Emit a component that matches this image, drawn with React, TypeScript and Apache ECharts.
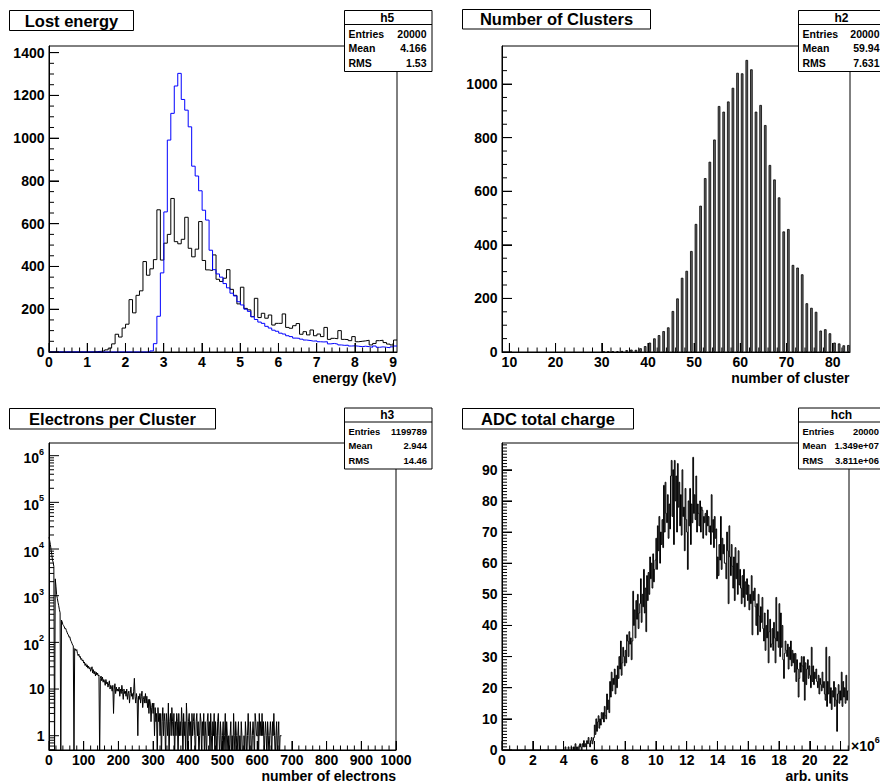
import React, { useEffect, useRef } from "react";
import * as echarts from "echarts";

const FONT = '"Liberation Sans", Arial, Helvetica, sans-serif';

// ---------- Panel 1: Lost energy (100 bins, 0 .. 9.1 keV) ----------
const energyBinStart = 0;
const energyBinWidth = 0.091;
const energyBlack = [
  0, 0, 0, 0, 0, 0, 0, 0, 0, 0,
  0, 0, 0, 2, 3, 5, 10, 18, 38, 83,
  70, 112, 130, 245, 183, 265, 286, 423, 359, 389,
  432, 665, 430, 509, 550, 718, 516, 506, 527, 630,
  485, 445, 481, 610, 428, 384, 381, 454, 340, 330,
  345, 385, 293, 265, 225, 303, 204, 197, 165, 251,
  161, 181, 158, 173, 126, 134, 134, 178, 115, 111,
  123, 133, 83, 95, 80, 103, 76, 84, 72, 115,
  59, 64, 62, 100, 59, 58, 53, 72, 48, 50,
  52, 55, 33, 40, 53, 55, 44, 37, 33, 56,
];
const energyBlue = [
  0, 0, 0, 0, 0, 0, 0, 0, 0, 0,
  0, 0, 0, 0, 0, 0, 0, 0, 0, 0,
  0, 0, 0, 0, 0, 0, 0, 0, 0, 5,
  39, 167, 370, 655, 991, 1116, 1244, 1303, 1181, 1131,
  1053, 869, 823, 754, 663, 617, 476, 385, 365, 350,
  320, 300, 275, 262, 235, 220, 200, 190, 165, 152,
  140, 134, 120, 112, 102, 97, 88, 84, 76, 72,
  65, 64, 60, 56, 54, 51, 52, 48, 47, 48,
  38, 40, 37, 33, 31, 32, 28, 29, 27, 25,
  27, 25, 22, 28, 22, 24, 22, 20, 24, 28,
];
const energyXTicks = [0, 1, 2, 3, 4, 5, 6, 7, 8, 9];
const energyYTicks = [0, 200, 400, 600, 800, 1000, 1200, 1400];
const statsH5: [string, string][] = [["Entries", "20000"], ["Mean", "4.166"], ["RMS", "1.53"]];

// ---------- Panel 2: Number of Clusters (integer bins) ----------
const clusterFirstBin = 30;
const clusterCounts = [
  1, 2, 2, 3, 4, 7, 9, 8,
  14, 22, 35, 51, 63, 78, 92, 153, 200, 277, 303, 377,
  478, 546, 649, 710, 793, 918, 897, 935, 986, 1042,
  1040, 1090, 1055, 897, 922, 847, 698, 644, 577, 450,
  459, 325, 315, 290, 182, 165, 150, 80, 85, 70,
  35, 32, 25, 26,
];
const clusterXTicks = [10, 20, 30, 40, 50, 60, 70, 80];
const clusterYTicks = [0, 200, 400, 600, 800, 1000];
const statsH2: [string, string][] = [["Entries", "20000"], ["Mean", "59.94"], ["RMS", "7.631"]];

// ---------- Panel 3: Electrons per Cluster (bins of 2, log scale) ----------
const electronBinStart = 0;
const electronBinWidth = 2;
const electronCounts = [
  18000, 15000, 12500, 9500, 7600, 5800, 5200, 4200, 0, 2300,
  1600, 1050, 880, 720, 610, 500, 430, 0, 300, 275,
  240, 230, 215, 195, 200, 180, 165, 150, 145, 128,
  132, 112, 105, 96, 88, 84, 0, 74, 72, 66,
  70, 58, 52, 56, 48, 50, 43, 45, 40, 42,
  36, 38, 32, 35, 30, 33, 28, 31, 27, 29,
  24, 27, 30, 22, 26, 21, 24, 19, 23, 20,
  22, 19, 20, 0, 17, 19, 15, 18, 14, 16,
  15, 12, 16, 13, 14, 11, 13, 15, 10, 12,
  11, 9, 12, 3, 10, 13, 8, 11, 9, 10,
  9, 11, 7, 10, 8, 12, 9, 6, 10, 8,
  9, 7, 10, 6, 8, 9, 5, 8, 11, 7,
  8, 6, 9, 17, 7, 5, 8, 6, 1, 7,
  6, 8, 5, 7, 9, 4, 6, 7, 5, 8,
  5, 7, 4, 6, 3, 6, 5, 2, 4, 5,
  3, 5, 1, 4, 2, 3, 0, 4, 2, 3,
  1, 3, 0, 2, 4, 1, 3, 2, 0, 3,
  2, 1, 5, 0, 2, 3, 1, 4, 2, 1,
  3, 0, 2, 1, 3, 2, 0, 3, 1, 2,
  1, 4, 2, 0, 3, 1, 2, 0, 5, 2,
  0, 2, 3, 1, 2, 0, 3, 1, 2, 3,
  1, 0, 2, 3, 1, 2, 0, 1, 3, 2,
  0, 2, 1, 3, 0, 2, 1, 0, 2, 3,
  1, 2, 0, 3, 1, 0, 2, 1, 3, 0,
  2, 1, 0, 2, 3, 1, 0, 2, 1, 0,
  1, 2, 0, 1, 3, 0, 2, 1, 0, 1,
  0, 1, 2, 0, 1, 0, 3, 1, 0, 2,
  1, 0, 1, 2, 0, 1, 0, 2, 1, 0,
  0, 1, 0, 2, 1, 0, 1, 3, 1, 0,
  2, 1, 0, 1, 2, 1, 0, 3, 2, 1,
  1, 2, 0, 3, 1, 2, 1, 3, 1, 2,
  0, 1, 2, 1, 0, 2, 1, 0, 1, 2,
  1, 0, 2, 1, 3, 1, 0, 1, 2, 0,
  1, 2, 0, 1, 1,
];
const electronXTicks = [0, 100, 200, 300, 400, 500, 600, 700, 800, 900, 1000];
const electronYTicks = [1, 10, 100, 1000, 10000, 100000, 1000000];
const statsH3: [string, string][] = [["Entries", "1199789"], ["Mean", "2.944"], ["RMS", "14.46"]];

// ---------- Panel 4: ADC total charge (x in units of 10^6, bins of 0.05) ----------
const chargeBinStart = 4.0;
const chargeBinWidth = 0.05;
const chargeCounts = [
  0, 0, 1, 0, 0, 0, 1, 0, 0, 0,
  1, 0, 0, 1, 0, 2, 0, 1, 0, 0,
  1, 2, 1, 0, 2, 1, 3, 1, 2, 1,
  3, 2, 4, 2, 1, 3, 4, 2, 3, 4,
  8, 5, 10, 6, 9, 11, 7, 10, 8, 12,
  10, 12, 9, 14, 11, 10, 18, 13, 16, 12,
  22, 17, 25, 19, 23, 21, 26, 18, 24, 20,
  27, 23, 30, 26, 35, 24, 28, 33, 30, 27,
  32, 28, 37, 35, 30, 38, 34, 36, 29, 35,
  51, 40, 45, 36, 48, 42, 50, 39, 44, 47,
  55, 41, 50, 46, 58, 44, 52, 38, 56, 48,
  57, 50, 62, 55, 60, 52, 63, 54, 58, 61,
  68, 58, 72, 64, 75, 60, 70, 66, 74, 65,
  85, 70, 86, 76, 73, 82, 68, 79, 71, 88,
  93, 75, 90, 66, 93, 80, 88, 70, 92, 78,
  86, 72, 82, 69, 90, 75, 78, 64, 84, 74,
  70, 58, 80, 72, 84, 66, 79, 73, 94, 76,
  82, 74, 88, 70, 79, 76, 72, 80, 70, 78,
  77, 68, 75, 73, 76, 69, 77, 72, 75, 70,
  72, 66, 82, 70, 74, 65, 75, 68, 71, 55,
  62, 56, 66, 61, 75, 58, 68, 63, 66, 60,
  60, 55, 70, 64, 47, 72, 62, 56, 66, 59,
  52, 62, 48, 65, 55, 60, 50, 64, 53, 58,
  52, 47, 56, 49, 58, 46, 54, 50, 55, 48,
  53, 45, 50, 47, 56, 37, 51, 48, 52, 46,
  40, 47, 37, 50, 43, 38, 46, 41, 49, 39,
  35, 44, 32, 40, 36, 45, 28, 38, 42, 33,
  34, 39, 32, 41, 36, 28, 49, 35, 38, 33,
  47, 30, 44, 33, 40, 29, 23, 31, 35, 32,
  30, 34, 26, 33, 29, 35, 27, 32, 28, 31,
  25, 31, 22, 29, 26, 17, 23, 28, 25, 30,
  27, 22, 30, 16, 28, 21, 26, 29, 23, 27,
  24, 20, 33, 22, 27, 21, 25, 23, 26, 22,
  20, 24, 18, 23, 21, 19, 25, 20, 22, 18,
  16, 33, 14, 22, 18, 30, 15, 20, 13, 19,
  17, 22, 14, 20, 16, 6, 18, 21, 15, 19,
  16, 25, 14, 22, 17, 20, 15, 24, 16, 19,
];
const chargeXTicks = [0, 2, 4, 6, 8, 10, 12, 14, 16, 18, 20, 22];
const chargeYTicks = [0, 10, 20, 30, 40, 50, 60, 70, 80, 90];
const statsHch: [string, string][] = [["Entries", "20000"], ["Mean", "1.349e+07"], ["RMS", "3.811e+06"]];

// ---------- layout / axis extents ----------
const GRIDS = [
  { left: 49, top: 46, width: 348, height: 306 },
  { left: 502, top: 46, width: 348, height: 306 },
  { left: 49, top: 443, width: 347, height: 307 },
  { left: 502, top: 443, width: 347, height: 307 },
];
const P1X = [0, 9.1];
const P1Y = [0, 1431];
const P2X = [8.4, 83.75];
const P2Y = [0, 1142];
const P3X = [0, 1000];
const P3Y = [0.494, 1.87e6];
const P4X = [0, 22.55];
const P4Y = [0, 98.6];
const EXTENTS: [number[], number[], boolean][] = [
  [P1X, P1Y, false],
  [P2X, P2Y, false],
  [P3X, P3Y, true],
  [P4X, P4Y, false],
];

// ---------- helpers ----------
function steps(from: number, to: number, step: number, skipMultipleOf: number) {
  const out: number[] = [];
  for (let k = 0; from + k * step <= to + 1e-9; k++) {
    const v = +(from + k * step).toFixed(6);
    const r = v / skipMultipleOf;
    if (Math.abs(r - Math.round(r)) < 1e-6) continue;
    out.push(v);
  }
  return out;
}

function logMinorTicks() {
  const out: number[] = [];
  for (let e = -1; e <= 6; e++) {
    for (let k = 2; k <= 9; k++) {
      const v = k * Math.pow(10, e);
      if (v > P3Y[0] && v < P3Y[1]) out.push(+v.toPrecision(3));
    }
  }
  return out;
}

function histSteps(start: number, width: number, values: number[], floor?: number) {
  const f = (v: number) => (floor !== undefined && v <= 0 ? floor : v);
  const pts: number[][] = values.map((v, i) => [+(start + i * width).toFixed(6), f(v)]);
  pts.push([+(start + values.length * width).toFixed(6), f(values[values.length - 1])]);
  return pts;
}

function plainAxis(gridIndex: number, kind: string, ext: number[], ticks: number[], type = "value") {
  const ax: any = {
    type,
    gridIndex,
    min: ext[0],
    max: ext[1],
    position: kind === "x" ? "bottom" : "left",
    axisLine: { show: true, lineStyle: { color: "#000", width: 1 } },
    splitLine: { show: false },
    minorTick: { show: false },
    axisLabel: { show: false },
    axisTick:
      type === "log"
        ? { show: false }
        : {
            show: true,
            inside: true,
            length: kind === "x" ? 9 : 10,
            customValues: ticks,
            lineStyle: { color: "#000", width: 1 },
          },
  };
  if (type === "log") ax.logBase = 10;
  return ax;
}

function txt(x: number, y: number, text: string, size: number, align = "left", extra: any = {}) {
  return {
    type: "text",
    x,
    y,
    z: 100,
    silent: true,
    style: { text, fill: "#000", fontFamily: FONT, fontWeight: "bold", fontSize: size, align, verticalAlign: "middle", ...extra },
  };
}

function box(x: number, y: number, w: number, h: number) {
  return { type: "rect", z: 99, silent: true, shape: { x, y, width: w, height: h }, style: { fill: "#fff", stroke: "#000", lineWidth: 1 } };
}

function seg(x1: number, y1: number, x2: number, y2: number) {
  return { type: "line", z: 100, silent: true, shape: { x1, y1, x2, y2 }, style: { stroke: "#000", lineWidth: 1 } };
}

function titleBox(x: number, y: number, w: number, h: number, text: string) {
  return [box(x, y, w, h), txt(x + w / 2, y + h / 2, text, 16.5, "center")];
}

function statBox(x: number, y: number, w: number, name: string, rows: [string, string][], rowFont: number, rightX: number) {
  const els: any[] = [box(x, y, w, 61), seg(x, y + 14, x + w, y + 14), txt(x + w / 2 - 1, y + 7, name, 12, "center")];
  rows.forEach(([k, v], i) => {
    const yy = y + 23.3 + i * 14.6;
    els.push(txt(x + 4, yy, k, rowFont));
    els.push(txt(rightX, yy, v, rowFont, "right"));
  });
  return els;
}

const supRich = {
  b: { fontSize: 14, fontWeight: "bold", fontFamily: FONT, fill: "#000", verticalAlign: "bottom", padding: [4, 0, 0, 0] },
  s: { fontSize: 9, fontWeight: "bold", fontFamily: FONT, fill: "#000", verticalAlign: "top" },
};

function baseGraphics() {
  return [
    ...titleBox(9.5, 10.5, 124, 20, "Lost energy"),
    ...titleBox(462.5, 9.5, 188, 19.5, "Number of Clusters"),
    ...titleBox(9.5, 408.5, 206, 20.5, "Electrons per Cluster"),
    ...titleBox(462.5, 408.5, 171, 20.5, "ADC total charge"),
    ...statBox(344.5, 10.5, 87.5, "h5", statsH5, 10.5, 426.5),
    ...statBox(798.5, 10.5, 88, "h2", statsH2, 10.5, 879.5),
    ...statBox(344.5, 408, 87.5, "h3", statsH3, 9.4, 427),
    ...statBox(798.5, 408, 88, "hch", statsHch, 9.4, 879),
    txt(396.5, 377.5, "energy (keV)", 14, "right"),
    txt(849.5, 377.5, "number of cluster", 14, "right"),
    txt(396, 775.5, "number of electrons", 14, "right"),
    txt(848.5, 775.5, "arb. units", 14, "right"),
    txt(851, 744, "{b|×10}{s|6}", 14, "left", { rich: supRich }),
  ];
}

function buildOption(graphic: any[]) {
  const xAxis = [
    plainAxis(0, "x", P1X, energyXTicks),
    plainAxis(1, "x", P2X, clusterXTicks),
    plainAxis(2, "x", P3X, electronXTicks),
    plainAxis(3, "x", P4X, chargeXTicks),
  ];
  const yAxis = [
    plainAxis(0, "y", P1Y, energyYTicks),
    plainAxis(1, "y", P2Y, clusterYTicks),
    plainAxis(2, "y", P3Y, electronYTicks, "log"),
    plainAxis(3, "y", P4Y, chargeYTicks),
  ];
  const line = (xi: number, data: number[][], color: string) => ({
    type: "line",
    xAxisIndex: xi,
    yAxisIndex: xi,
    step: "end",
    symbol: "none",
    silent: true,
    clip: true,
    lineStyle: { color, width: 1 },
    data,
  });
  const series: any[] = [
    line(0, histSteps(energyBinStart, energyBinWidth, energyBlack), "#000"),
    line(0, histSteps(energyBinStart, energyBinWidth, energyBlue), "#0000ff"),
    {
      type: "bar",
      xAxisIndex: 1,
      yAxisIndex: 1,
      barWidth: 2.6,
      silent: true,
      itemStyle: { color: "#666", borderColor: "#000", borderWidth: 0.8 },
      data: clusterCounts.map((v, i) => [clusterFirstBin + i + 0.4, v]),
    },
    line(2, histSteps(electronBinStart, electronBinWidth, electronCounts, 0.3), "#000"),
    line(3, [[0, 0], ...histSteps(chargeBinStart, chargeBinWidth, chargeCounts)], "#000"),
  ];
  return {
    backgroundColor: "#fff",
    animation: false,
    grid: GRIDS.map((g) => ({ ...g, show: true, borderColor: "#000", borderWidth: 1 })),
    xAxis,
    yAxis,
    series,
    graphic,
  };
}

// pixel position through the chart's own scales, with a scale-based fallback
function makeToPx(chart: any) {
  return (gi: number, x: number, y: number): number[] => {
    if (chart) {
      try {
        const p = chart.convertToPixel({ gridIndex: gi }, [x, y]);
        if (p && isFinite(p[0]) && isFinite(p[1])) return p;
      } catch (e) {
        /* fall through */
      }
    }
    const g = GRIDS[gi];
    const [ex, ey, logY] = EXTENTS[gi];
    const fx = (x - ex[0]) / (ex[1] - ex[0]);
    const fy = logY
      ? (Math.log10(y) - Math.log10(ey[0])) / (Math.log10(ey[1]) - Math.log10(ey[0]))
      : (y - ey[0]) / (ey[1] - ey[0]);
    return [g.left + fx * g.width, g.top + g.height - fy * g.height];
  };
}

function buildAxisGraphics(chart: any) {
  const toPx = makeToPx(chart);
  const sets: any[] = [
    [0, P1X[0], P1Y[0], energyXTicks, steps(0, 9.1, 0.2, 1), energyYTicks, steps(0, 1430, 50, 200)],
    [1, P2X[0], P2Y[0], clusterXTicks, steps(10, 83, 2, 10), clusterYTicks, steps(0, 1140, 50, 200)],
    [2, P3X[0], P3Y[0], electronXTicks, steps(0, 1000, 20, 100), electronYTicks, logMinorTicks()],
    [3, P4X[0], P4Y[0], chargeXTicks, steps(0, 22.5, 0.5, 2), chargeYTicks, steps(0, 98, 1, 10)],
  ];
  const ticks: any[] = [];
  const labels: any[] = [];
  sets.forEach((s) => {
    const gi = s[0];
    const xMin = s[1];
    const yMin = s[2];
    (s[3] as number[]).forEach((v) => {
      const p = toPx(gi, v, yMin);
      ticks.push(seg(p[0], p[1], p[0], p[1] - 9));
      labels.push(txt(p[0], p[1] + 9.5, String(v), 14, "center"));
    });
    (s[4] as number[]).forEach((v) => {
      const p = toPx(gi, v, yMin);
      ticks.push(seg(p[0], p[1], p[0], p[1] - 4.5));
    });
    (s[5] as number[]).forEach((v) => {
      const p = toPx(gi, xMin, v);
      ticks.push(seg(p[0], p[1], p[0] + 10, p[1]));
      if (gi === 2 && v >= 100) {
        const e = Math.round(Math.log10(v));
        labels.push(txt(p[0] - 5, p[1] + 0.5, `{b|10}{s|${e}}`, 14, "right", { rich: supRich }));
      } else {
        labels.push(txt(p[0] - 4.5, p[1], String(v), 14, "right"));
      }
    });
    (s[6] as number[]).forEach((v) => {
      const p = toPx(gi, xMin, v);
      ticks.push(seg(p[0], p[1], p[0] + 5, p[1]));
    });
  });
  // ticks first, labels after, boxes drawn by base graphics
  return [...ticks, ...labels];
}

export default function App() {
  const ref = useRef<HTMLDivElement>(null);
  useEffect(() => {
    if (!ref.current) return;
    const chart = echarts.init(ref.current, undefined, { renderer: "svg", width: 880, height: 782 });
    const base = baseGraphics();
    try {
      chart.setOption(buildOption(base) as any);
    } catch (e) {
      /* continue */
    }
    let axisEls: any[] = [];
    try {
      axisEls = buildAxisGraphics(chart);
    } catch (e) {
      axisEls = [];
    }
    try {
      // replace the whole option so the tick/label elements are created together with the boxes
      chart.setOption(buildOption([...axisEls, ...base]) as any, true);
    } catch (e) {
      /* ignore */
    }
    return () => chart.dispose();
  }, []);
  return <div ref={ref} style={{ position: "fixed", left: 0, top: 0, width: 880, height: 782, background: "#fff" }} />;
}
